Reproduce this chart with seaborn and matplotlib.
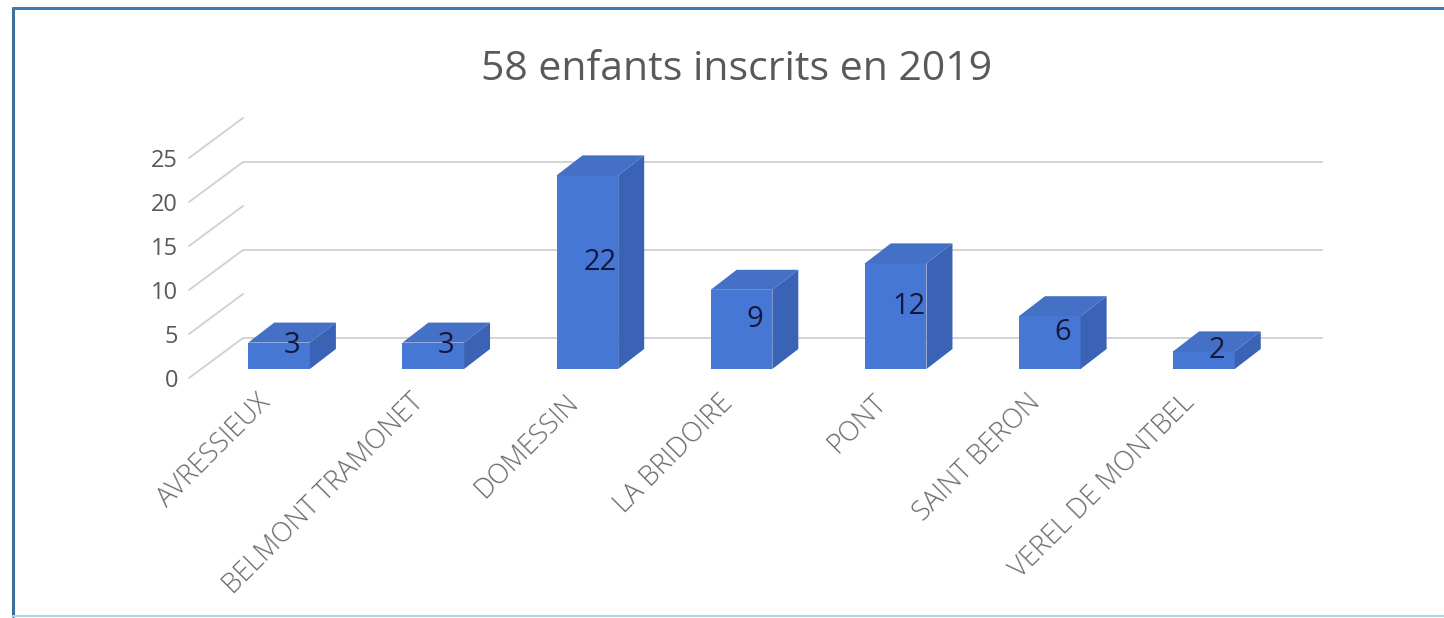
import numpy as np
import pandas as pd

import matplotlib
matplotlib.use('Agg')
import matplotlib.pyplot as plt
from matplotlib.patches import Polygon
from matplotlib.lines import Line2D

import seaborn as sns

communes = ['AVRESSIEUX', 'BELMONT TRAMONET', 'DOMESSIN', 'LA BRIDOIRE',
            'PONT', 'SAINT BERON', 'VEREL DE MONTBEL']
inscrits = [3, 3, 22, 9, 12, 6, 2]
y_ticks = [0, 5, 10, 15, 20, 25]
back_lines = [0, 10, 20]
titre = '58 enfants inscrits en 2019'

sns.set_theme(style='white')
plt.rcParams['font.family'] = ['Open Sans', 'DejaVu Sans']

W, H = 1444, 618
fig = plt.figure(figsize=(W / 100, H / 100), dpi=100)
fig.patch.set_facecolor('white')
ax = fig.add_axes([189 / W, (H - 378) / H, 1079 / W, 220 / H])

df = pd.DataFrame({'commune': communes, 'n': inscrits})
sns.barplot(data=df, x='commune', y='n', color='#4677D4', width=0.40,
            saturation=1, ax=ax, zorder=3)
ax.set_xlim(-0.5, 6.5)
ax.set_ylim(0, 25)

# pixel -> data units, for the fake 3d depth
px = 1079 / 7
py = 220 / 25
wall_dx, wall_dy = 54 / px, 40 / py
off_dx, off_dy = 13 / px, 9 / py
deep_dx, deep_dy = 26 / px, 20 / py

grid_col = '#d0d0d0'
for v in y_ticks:
    ax.plot([-0.5, -0.5 + wall_dx], [v, v + wall_dy], color=grid_col,
            lw=1.3, clip_on=False, zorder=1)
for v in back_lines:
    ax.plot([-0.5 + wall_dx, 6.5 + wall_dx], [v + wall_dy] * 2,
            color=grid_col, lw=1.3, clip_on=False, zorder=1)

for p, v in zip(ax.patches, inscrits):
    p.set_x(p.get_x() + off_dx)
    p.set_y(p.get_y() + off_dy)
    p.set_clip_on(False)
    p.set_edgecolor('none')
    x0, y0, w, h = p.get_x(), p.get_y(), p.get_width(), p.get_height()
    top = [(x0, y0 + h), (x0 + w, y0 + h),
           (x0 + w + deep_dx, y0 + h + deep_dy), (x0 + deep_dx, y0 + h + deep_dy)]
    side = [(x0 + w, y0), (x0 + w + deep_dx, y0 + deep_dy),
            (x0 + w + deep_dx, y0 + h + deep_dy), (x0 + w, y0 + h)]
    ax.add_patch(Polygon(top, closed=True, fc='#4470C6', ec='none',
                         zorder=3, clip_on=False))
    ax.add_patch(Polygon(side, closed=True, fc='#3A63B5', ec='none',
                         zorder=3, clip_on=False))
    ax.text(x0 + w / 2 + deep_dx / 2, y0 + h / 2 + deep_dy / 2, str(v),
            ha='center', va='center', fontsize=21, color='#14183a', zorder=5)

ax.set_yticks(y_ticks)
ax.set_xlabel('')
ax.set_ylabel('')
ax.tick_params(axis='y', length=0, pad=8, labelsize=17, labelcolor='#595959')
ax.tick_params(axis='x', length=0, pad=15, labelsize=19.5, labelcolor='#6a6a6a')
plt.setp(ax.get_xticklabels(), rotation=45, ha='right', va='center',
         rotation_mode='anchor', fontweight='light')
sns.despine(ax=ax, left=True, bottom=True)
ax.grid(False)
ax.set_facecolor('none')

fig.text(737 / W, 1 - 70 / H, titre, ha='center', va='center',
         fontsize=29.5, color='#595959')

# chart frame
fig.add_artist(Line2D([13 / W, 13 / W], [2 / H, 1 - 8 / H], color='#3E6F99',
                      lw=2.2, transform=fig.transFigure))
fig.add_artist(Line2D([13 / W, 1], [1 - 8 / H, 1 - 8 / H], color='#3E79B0',
                      lw=2.2, transform=fig.transFigure))
fig.add_artist(Line2D([13 / W, 1], [2 / H, 2 / H], color='#A8D8F0',
                      lw=1.5, transform=fig.transFigure))

fig.savefig('out.png', dpi=100)
